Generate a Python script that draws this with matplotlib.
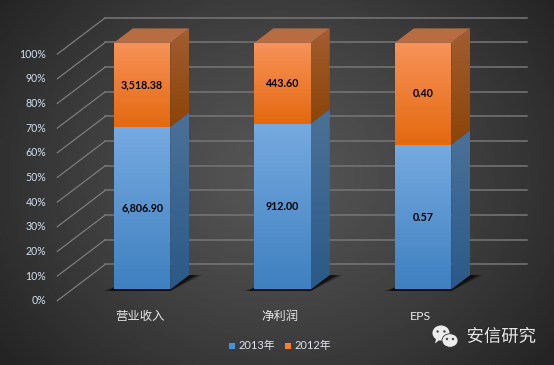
import numpy as np
import matplotlib
matplotlib.use('Agg')
import matplotlib.pyplot as plt
from matplotlib.patches import Polygon, Ellipse, Rectangle
import matplotlib.patheffects as pe

categories = ['营业收入', '净利润', 'EPS']
values_2013 = [6806.90, 912.00, 0.57]
values_2012 = [3518.38, 443.60, 0.40]
labels_2013 = ['6,806.90', '912.00', '0.57']
labels_2012 = ['3,518.38', '443.60', '0.40']
pct_ticks = [0, 10, 20, 30, 40, 50, 60, 70, 80, 90, 100]

plt.rcParams['font.family'] = ['Lato', 'Noto Sans CJK SC', 'DejaVu Sans']

W, H = 554, 365
# one data unit in pixels, x = category number, y = percent
PX_X = 140.5
PX_Y = 2.466
X0_PX = 142.0
Y0_PX = 289.5

fig = plt.figure(figsize=(W / 100, H / 100), dpi=100)
ax = fig.add_axes([0, 0, 1, 1])
xlim = (-X0_PX / PX_X, (W - X0_PX) / PX_X)
ylim = ((Y0_PX - H) / PX_Y, Y0_PX / PX_Y)
ax.axis('off')


def dx(px):
    return px / PX_X


def dy(px):
    return px / PX_Y


# background
yy, xx = np.mgrid[0:1:200j, 0:1:300j]
r = np.sqrt(((xx - 0.5) / 0.62) ** 2 + ((yy - 0.52) / 0.8) ** 2)
bg = 0.335 - 0.19 * np.clip(r, 0, 1) ** 1.25
ax.imshow(bg, extent=(*xlim, *ylim), origin='lower', cmap='gray', vmin=0, vmax=1,
          aspect='auto', zorder=0)

# walls: side diagonals then back lines
floor_left = dx(57.3 - X0_PX)
floor_y = dy(Y0_PX - 300.7)
back_left = dx(105.3 - X0_PX)
back_right = dx(527.3 - X0_PX)
back_y = dy(Y0_PX - 264.3)
for p in pct_ticks:
    ax.plot([floor_left, back_left], [floor_y + p, back_y + p], color='#7c7c7c', lw=0.9, zorder=1)
    ax.plot([back_left, back_right], [back_y + p, back_y + p], color='#767676', lw=1.1, zorder=1)
    ax.text(floor_left - dx(11), floor_y + p, f'{p}%', color='#d3deee', fontsize=7.6,
            ha='right', va='center', zorder=5)

bar_w = dx(56.5)
depth_x = dx(19)
depth_y = dy(14.5)


def grad_fill(points, top, bottom):
    pts = np.array(points)
    poly = Polygon(pts, closed=True, transform=ax.transData, fc='none', ec='none')
    ax.add_patch(poly)
    c = np.linspace(0, 1, 64)[:, None, None]
    img = c * np.array(matplotlib.colors.to_rgb(top)) + (1 - c) * np.array(matplotlib.colors.to_rgb(bottom))
    im = ax.imshow(img, origin='lower', aspect='auto', zorder=3,
                   extent=(pts[:, 0].min(), pts[:, 0].max(), pts[:, 1].min(), pts[:, 1].max()))
    im.set_clip_path(poly)


for i, (a, b) in enumerate(zip(values_2013, values_2012)):
    left = i - bar_w / 2
    right = i + bar_w / 2
    split = a / (a + b) * 100

    # shadow on the floor
    for grow, alpha in [(1.0, 0.22), (0.75, 0.35), (0.5, 0.5)]:
        shadow = [(left - dx(11 * grow), -dy(1.5)), (right, -dy(1.5)),
                  (right + depth_x + dx(13 * grow), depth_y), (right + depth_x, depth_y),
                  (right, dy(2)), (left, dy(2))]
        ax.add_patch(Polygon(shadow, closed=True, fc='black', ec='none', alpha=alpha, zorder=2))

    # front faces
    grad_fill([(left, 0), (right, 0), (right, split), (left, split)], '#76aae0', '#3f80c0')
    grad_fill([(left, split), (right, split), (right, 100), (left, 100)], '#f79259', '#e4690f')

    # side faces
    grad_fill([(right, 0), (right + depth_x, depth_y), (right + depth_x, split + depth_y), (right, split)],
              '#4c7198', '#2a5a88')
    grad_fill([(right, split), (right + depth_x, split + depth_y), (right + depth_x, 100 + depth_y), (right, 100)],
              '#a25d31', '#8c4408')

    # top face
    ax.add_patch(Polygon([(left, 100), (right, 100), (right + depth_x, 100 + depth_y), (left + depth_x, 100 + depth_y)],
                         closed=True, fc='#b86c42', ec='none', zorder=3))

    ax.text(i, split / 2, labels_2013[i], color='black', fontsize=7.7, fontweight='bold',
            ha='center', va='center', zorder=6)
    ax.text(i, (split + 100) / 2, labels_2012[i], color='black', fontsize=7.7, fontweight='bold',
            ha='center', va='center', zorder=6)

    ax.text(i - dx(2.5), dy(Y0_PX - 316), categories[i], color='#e6e6e6', fontsize=8.9,
            ha='center', va='center', zorder=6)

# legend
leg_y = dy(Y0_PX - 345.7)
for x_sq, x_txt, col, name in [(229, 238.5, '#4a90d6', '2013年'), (285, 294.5, '#f58030', '2012年')]:
    ax.add_patch(Rectangle((dx(x_sq - X0_PX), leg_y - dy(3)), dx(6), dy(6), fc=col, ec='none', zorder=6))
    ax.text(dx(x_txt - X0_PX), leg_y, name, color='#dfe3ea', fontsize=7.9, ha='left', va='center', zorder=6)

# watermark
shadow_fx = [pe.withStroke(linewidth=1.5, foreground='#2a2a2a')]
ax.text(dx(466.5 - X0_PX), dy(Y0_PX - 336.5), '安信研究', color='#e8e8e8', fontsize=12.5,
        ha='left', va='center', zorder=7, path_effects=shadow_fx)


def bubble(cx, cy, w, h, tail_x, tail_y, eye):
    c = (dx(cx - X0_PX), dy(Y0_PX - cy))
    ax.add_patch(Ellipse(c, dx(w), dy(h), fc='#ececec', ec='#333333', lw=0.6, zorder=7))
    tail = [(dx(tail_x - X0_PX), dy(Y0_PX - tail_y)),
            (c[0] - dx(w * 0.25), c[1] - dy(h * 0.25)),
            (c[0] + dx(w * 0.05 * np.sign(tail_x - cx)), c[1] - dy(h * 0.4))]
    ax.add_patch(Polygon(tail, closed=True, fc='#ececec', ec='none', zorder=7))
    for s in (-1, 1):
        ax.add_patch(Ellipse((c[0] + s * dx(eye), c[1] + dy(1.5)), dx(2.4), dy(2.4), fc='#444444', ec='none', zorder=8))


bubble(441, 333, 18, 16, 435, 343.5, 3.4)
bubble(450, 340.5, 16, 13.5, 455, 347.5, 3)

ax.set_xlim(*xlim)
ax.set_ylim(*ylim)
fig.savefig('out.png', dpi=100)
